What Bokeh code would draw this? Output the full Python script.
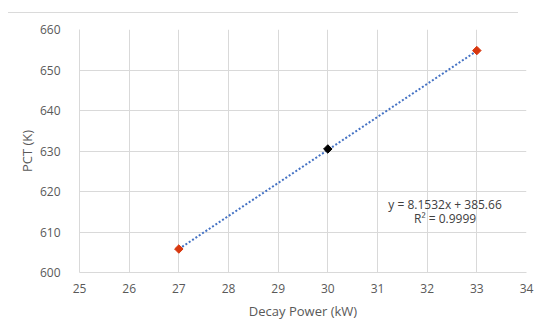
import numpy as np
from bokeh.plotting import figure
from bokeh.models import Label, FixedTicker, Range1d, Div
from bokeh.layouts import column
from bokeh.embed import file_html
from bokeh.resources import INLINE

# data
power_red = [27, 33]
pct_red = [605.8, 654.8]
power_black = [30]
pct_black = [630.5]
slope = 8.1532
intercept = 385.66
trend_x = [27, 33]
x_ticks = [25, 26, 27, 28, 29, 30, 31, 32, 33, 34]
y_ticks = [600, 610, 620, 630, 640, 650, 660]
eq_text = "y = 8.1532x + 385.66"
r2_text = "R² = 0.9999"

FONT = "Open Sans"
TXT = "#595959"
GRID = "#D9D9D9"

fig = figure(width=534, height=308, output_backend="svg", toolbar_location=None,
             x_range=Range1d(25, 34), y_range=Range1d(600, 660),
             min_border_left=79, min_border_right=8, min_border_top=15, min_border_bottom=50)
fig.outline_line_color = None
fig.background_fill_color = "white"
fig.border_fill_color = "white"

for ax in (fig.xaxis[0], fig.yaxis[0]):
    ax.axis_line_color = GRID
    ax.major_tick_line_color = None
    ax.minor_tick_line_color = None
    ax.major_label_text_color = TXT
    ax.major_label_text_font = FONT
    ax.major_label_text_font_size = "12px"
    ax.axis_label_text_color = TXT
    ax.axis_label_text_font = FONT
    ax.axis_label_text_font_size = "13px"
    ax.axis_label_text_font_style = "normal"

fig.xaxis.ticker = FixedTicker(ticks=x_ticks)
fig.yaxis.ticker = FixedTicker(ticks=y_ticks)
fig.xaxis.axis_label = "Decay Power (kW)"
fig.yaxis.axis_label = "PCT (K)"
fig.xaxis.major_label_standoff = 5
fig.yaxis.major_label_standoff = 13
fig.xaxis.axis_label_standoff = 6
fig.yaxis.axis_label_standoff = 1

fig.xgrid.grid_line_color = GRID
fig.ygrid.grid_line_color = GRID
fig.xgrid.ticker = FixedTicker(ticks=x_ticks)
fig.ygrid.ticker = FixedTicker(ticks=y_ticks)

trend_y = [slope * x + intercept for x in trend_x]
fig.line(trend_x, trend_y, line_color="#4472C4", line_width=2, line_dash="2 2")

fig.scatter(power_red, pct_red, marker="square", angle=np.pi / 4, size=6,
            fill_color="#D8380F", line_color="#D8380F", line_width=1)
fig.scatter(power_black, pct_black, marker="square", angle=np.pi / 4, size=6,
            fill_color="black", line_color="black", line_width=1)

fig.add_layout(Label(x=32.36, y=616.8, text=eq_text, text_color="#404040", text_font=FONT,
                     text_font_size="12px", text_baseline="middle", text_align="center"))
fig.add_layout(Label(x=32.36, y=613.3, text=r2_text, text_color="#404040", text_font=FONT,
                     text_font_size="12px", text_baseline="middle", text_align="center"))

rule = Div(text='<div style="height:13px;width:510px;margin-left:8px;'
                'border-bottom:1px solid #DADADA;"></div>',
           width=534, height=14, margin=(0, 0, 0, 0))

p = column(rule, fig, spacing=0)

open("out.html", "w").write(file_html(p, INLINE))
